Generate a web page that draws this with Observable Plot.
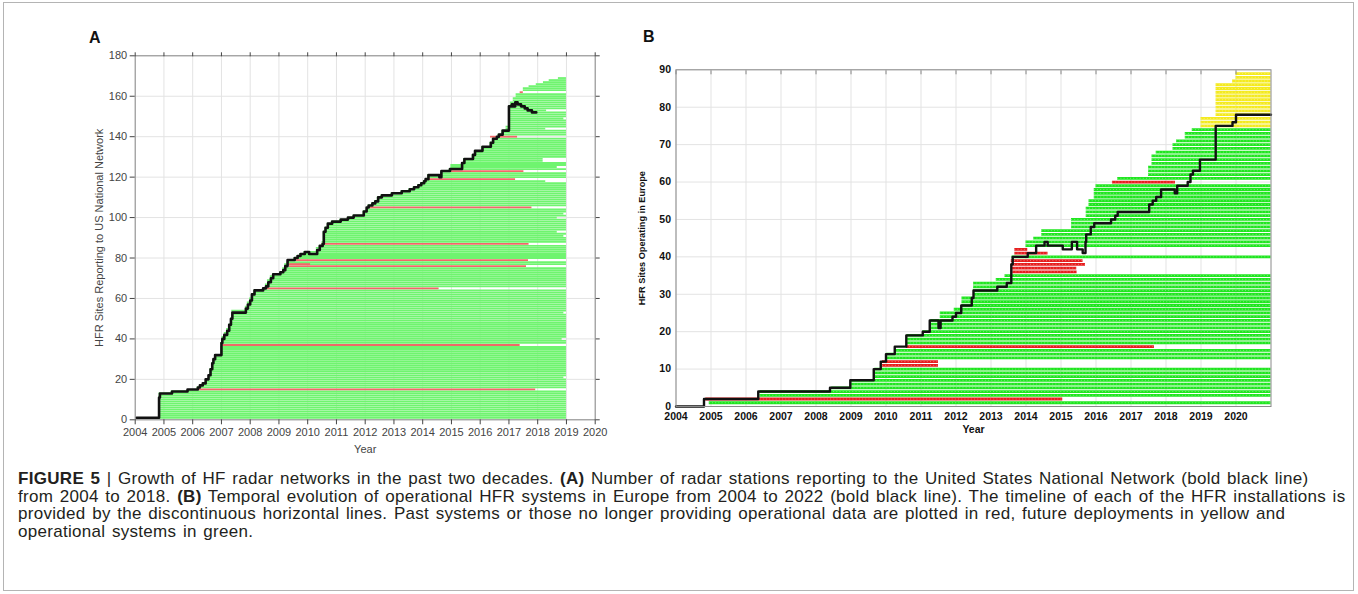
<!DOCTYPE html>
<html><head><meta charset="utf-8">
<script src="https://cdn.jsdelivr.net/npm/d3@7"></script>
<script src="https://cdn.jsdelivr.net/npm/@observablehq/plot@0.6"></script>
<style>
html,body{margin:0;padding:0;background:#fff}
body{width:1358px;height:594px;position:relative;overflow:hidden;font-family:"Liberation Sans",Arial,sans-serif}
#border{position:absolute;left:3px;top:2px;width:1351px;height:589px;border:1px solid #b4b4b4;box-sizing:border-box}
.panel{position:absolute}
.letter{position:absolute;font:bold 16px "Liberation Sans",Arial,sans-serif;color:#111;line-height:16px}
#caption{position:absolute;left:18px;top:470px;font-size:17px;letter-spacing:0.3px;word-spacing:1.5px;line-height:17.6px;color:#231f20;white-space:nowrap}
#caption b{font-weight:bold}
</style></head><body>
<div id="border"></div>
<div class="letter" style="left:89px;top:30px">A</div>
<div class="letter" style="left:643px;top:29px">B</div>
<div id="panelA" class="panel" style="left:40px;top:40px"></div>
<div id="panelB" class="panel" style="left:630px;top:50px"></div>
<div id="caption"><b>FIGURE 5</b> | Growth of HF radar networks in the past two decades. <b>(A)</b> Number of radar stations reporting to the United States National Network (bold black line)<br>from 2004 to 2018. <b>(B)</b> Temporal evolution of operational HFR systems in Europe from 2004 to 2022 (bold black line). The timeline of each of the HFR installations is<br>provided by the discontinuous horizontal lines. Past systems or those no longer providing operational data are plotted in red, future deployments in yellow and<br>operational systems in green.</div>
<script>
// ---------------- Panel A : US National Network ----------------
// black line: [year, sites reporting]
const usLine = [[2004.05,1],[2004.83,11],[2004.86,13],[2005.28,14],[2005.82,15],[2006.18,16],[2006.25,17],[2006.35,18],[2006.45,20],[2006.55,22],[2006.62,25],[2006.68,28],[2006.72,30],[2006.78,32],[2007.0,38],[2007.03,40],[2007.1,42],[2007.2,44],[2007.27,47],[2007.33,50],[2007.38,53],[2007.85,55],[2007.92,57],[2008.0,59],[2008.06,62],[2008.15,64],[2008.45,65],[2008.55,66],[2008.63,68],[2008.72,70],[2008.8,72],[2009.05,73],[2009.15,74],[2009.22,76],[2009.3,79],[2009.55,80],[2009.65,81],[2009.75,82],[2009.9,83],[2010.05,82],[2010.33,84],[2010.42,86],[2010.52,87],[2010.56,93],[2010.62,95],[2010.7,97],[2010.85,98],[2011.15,99],[2011.4,100],[2011.6,101],[2011.95,103],[2012.05,105],[2012.12,106],[2012.25,107],[2012.35,108],[2012.45,110],[2012.58,111],[2012.93,112],[2013.27,113],[2013.55,114],[2013.7,115],[2013.85,116],[2013.95,117],[2014.05,118],[2014.1,119],[2014.2,121],[2014.58,120],[2014.65,123],[2014.95,124],[2015.37,127],[2015.45,129],[2015.75,131],[2015.82,133],[2016.08,135],[2016.37,137],[2016.45,139],[2016.58,140],[2016.65,141],[2016.78,143],[2017.0,155],[2017.1,156],[2017.15,155],[2017.22,157],[2017.3,156],[2017.42,155],[2017.55,154],[2017.65,153],[2017.8,152],[2017.95,152]];
// green envelope: [start year, highest site row started by then]
const usEnvelope = [[2004.83,13],[2005.25,14],[2005.8,15],[2006.15,16],[2006.25,17],[2006.35,18],[2006.45,20],[2006.55,22],[2006.6,25],[2006.66,28],[2006.72,30],[2006.78,32],[2006.98,38],[2007.02,41],[2007.1,43],[2007.18,45],[2007.25,47],[2007.32,50],[2007.36,54],[2007.83,56],[2007.9,58],[2007.98,60],[2008.05,62],[2008.13,64],[2008.43,65],[2008.53,67],[2008.6,69],[2008.7,71],[2008.78,72],[2009.03,73],[2009.13,75],[2009.2,77],[2009.28,79],[2009.52,80],[2009.62,81],[2009.72,82],[2009.87,83],[2010.3,85],[2010.4,86],[2010.5,88],[2010.54,93],[2010.6,95],[2010.68,97],[2010.82,98],[2011.12,99],[2011.38,100],[2011.58,101],[2011.93,103],[2012.03,105],[2012.1,106],[2012.22,107],[2012.32,108],[2012.42,110],[2012.55,111],[2012.9,112],[2013.25,113],[2013.52,114],[2013.67,115],[2013.82,116],[2013.92,117],[2014.02,118],[2014.08,119],[2014.17,121],[2014.62,123],[2014.92,124],[2014.98,126],[2015.35,127],[2015.42,129],[2015.72,131],[2015.8,133],[2016.05,135],[2016.34,137],[2016.42,139],[2016.55,140],[2016.62,141],[2016.75,143],[2016.9,145],[2016.99,155],[2017.05,157],[2017.15,159],[2017.25,161],[2017.39,162],[2017.5,164],[2017.7,165],[2017.95,166],[2018.2,167],[2018.4,168],[2018.72,169]];
// past systems (red): [row, start, end]
const usPast = [[15,2006.24,2017.93],[37,2007.03,2017.39],[65,2008.59,2014.57],[76,2009.37,2017.61],[77,2009.37,2010.1],[79,2009.61,2017.68],[87,2010.5,2017.7],[105,2012.16,2017.8],[119,2014.1,2017.23],[123,2014.95,2017.52],[140,2016.36,2017.3],[162,2017.39,2017.5]];
const usRetired = [15,37,65,76,79,87,105,119,123,140,162];
// operational rows whose timeline stops before 2019: [row, end]
const usEarlyEnd = [[21,2018.91],[40,2018.85],[53,2018.91],[91,2018.91],[93,2018.68],[100,2018.68],[102,2018.91],[118,2018.28],[125,2018.68],[128,2018.19],[129,2018.19],[144,2018.28],[149,2018.91],[153,2018.31]];
const usEnd = 2019;

// ---------------- Panel B : Europe ----------------
const euLine = [[2004.0,0],[2004.8,2],[2006.35,4],[2008.4,5],[2008.98,7],[2009.65,10],[2009.85,12],[2010.0,14],[2010.25,16],[2010.58,19],[2011.05,20],[2011.25,23],[2011.5,21],[2011.56,23],[2011.9,24],[2012.0,25],[2012.15,27],[2012.45,29],[2012.5,31],[2013.18,32],[2013.45,33],[2013.58,38],[2013.62,40],[2014.05,41],[2014.29,43],[2014.53,44],[2014.62,43],[2015.05,42],[2015.31,44],[2015.46,42],[2015.62,41],[2015.7,44],[2015.72,46],[2015.85,48],[2015.95,49],[2016.43,50],[2016.55,51],[2016.62,52],[2017.52,54],[2017.62,55],[2017.72,56],[2017.86,58],[2018.25,57],[2018.32,59],[2018.62,60],[2018.7,62],[2018.77,63],[2018.97,66],[2019.42,75],[2019.9,76],[2020.0,78],[2021.0,78]];
// site timelines: [first row, last row, start, end, status]
const euSites = [
  [1,1,2004.95,2021,"op"],[2,2,2004.85,2015.05,"past"],[3,4,2006.4,2021,"op"],[5,5,2008.45,2021,"op"],
  [6,7,2009.0,2021,"op"],[8,10,2009.68,2021,"op"],[11,12,2009.9,2011.5,"past"],[13,14,2010.02,2021,"op"],
  [15,15,2010.25,2021,"op"],[16,16,2010.58,2017.67,"past"],[17,19,2010.6,2021,"op"],[20,20,2011.05,2021,"op"],
  [21,23,2011.28,2021,"op"],[24,25,2011.55,2021,"op"],[26,26,2011.95,2021,"op"],[27,29,2012.17,2021,"op"],
  [30,33,2012.5,2021,"op"],[34,34,2013.15,2021,"op"],[35,35,2013.4,2021,"op"],[36,36,2013.62,2015.46,"past"],
  [37,37,2013.6,2015.45,"past"],[38,38,2013.58,2015.7,"past"],[39,39,2013.58,2015.63,"past"],[40,40,2013.6,2021,"op"],
  [41,41,2013.68,2014.63,"past"],[42,42,2013.68,2014.05,"past"],[43,44,2014.0,2021,"op"],[45,45,2014.22,2021,"op"],
  [46,47,2014.45,2021,"op"],[48,50,2015.3,2021,"op"],[51,53,2015.72,2021,"op"],[54,55,2015.8,2021,"op"],
  [56,58,2015.95,2021,"op"],[59,59,2016.0,2021,"op"],[60,60,2016.47,2018.27,"past"],[61,61,2016.62,2021,"op"],
  [62,64,2017.5,2021,"op"],[65,67,2017.6,2021,"op"],[68,68,2017.72,2021,"op"],[69,70,2018.2,2021,"op"],
  [71,71,2018.3,2021,"op"],[72,73,2018.55,2021,"op"],[74,74,2018.75,2021,"op"],[75,77,2019.0,2021,"future"],
  [78,86,2019.43,2021,"future"],[87,87,2019.9,2021,"future"],[88,89,2020.0,2021,"future"]
];

// ---------- build row segments ----------
const usTopRow = usEnvelope[usEnvelope.length-1][1];
const greenA = [];
for (let r = 1; r <= usTopRow; r++) {
  if (usRetired.includes(r)) continue;
  const env = usEnvelope.find(e => e[1] >= r);
  const early = usEarlyEnd.find(e => e[0] === r);
  greenA.push({row: r, start: env[0], end: early ? early[1] : usEnd});
}
const redA = usPast.map(([row, start, end]) => ({row, start, end}));

const euRows = [];
for (const [r0, r1, start, end, status] of euSites)
  for (let r = r0; r <= r1; r++) euRows.push({row: r, start, end, status});

const gridC = "#e3e3e3";
const plotA = Plot.plot({
  width: 580, height: 430,
  marginLeft: 94.7, marginTop: 15.3, marginRight: 25.3, marginBottom: 50.7,
  x: {domain: [2004, 2020]},
  y: {domain: [0, 180]},
  style: {fontFamily: "'Liberation Sans', Arial, sans-serif", fontSize: "11px", color: "#444", background: "transparent", overflow: "visible"},
  marks: [
    Plot.gridX({ticks: d3.range(2004, 2021), stroke: gridC, strokeOpacity: 1}),
    Plot.gridY({ticks: d3.range(0, 181, 20), stroke: gridC, strokeOpacity: 1}),
    Plot.ruleY(greenA, {y: "row", x1: "start", x2: "end", stroke: "#6ff46f", strokeWidth: 1.8}),
    Plot.ruleY(redA, {y: "row", x1: "start", x2: "end", stroke: "#f06868", strokeWidth: 1.8}),
    Plot.line(usLine, {x: d => d[0], y: d => d[1], curve: "step-after", stroke: "#111", strokeWidth: 2.6}),
    Plot.frame({stroke: "#8a8a8a"}),
    Plot.axisX({anchor: "bottom", ticks: d3.range(2004, 2021), tickFormat: d => String(d), tickSize: 5, tickPadding: 3, label: "Year", labelAnchor: "center", labelOffset: 33, labelArrow: "none"}),
    Plot.axisX({anchor: "top", ticks: d3.range(2004, 2021), tickFormat: () => "", tickSize: 4, label: null}),
    Plot.axisY({anchor: "left", ticks: d3.range(0, 181, 20), tickSize: 5, tickPadding: 3, label: "HFR Sites Reporting to US National Network", labelAnchor: "center", labelOffset: 40, labelArrow: "none"}),
    Plot.axisY({anchor: "right", ticks: d3.range(0, 181, 20), tickFormat: () => "", tickSize: 4, label: null})
  ]
});
document.getElementById("panelA").appendChild(plotA);

const euColor = {op: "#1fe61f", past: "#e61e1e", future: "#f4ea1e"};
const plotB = Plot.plot({
  width: 660, height: 400,
  marginLeft: 45.5, marginTop: 19.3, marginRight: 19.5, marginBottom: 44,
  x: {domain: [2004, 2021]},
  y: {domain: [0, 90]},
  style: {fontFamily: "'Liberation Sans', Arial, sans-serif", fontSize: "10.5px", fontWeight: "bold", color: "#111", background: "transparent", overflow: "visible"},
  marks: [
    Plot.gridX({ticks: d3.range(2004, 2021), stroke: gridC, strokeOpacity: 1}),
    Plot.gridY({ticks: d3.range(0, 91, 10), stroke: gridC, strokeOpacity: 1}),
    Plot.ruleY(euRows, {y: "row", x1: "start", x2: "end", stroke: d => euColor[d.status], strokeWidth: 2.8}),
    Plot.ruleY(euRows, {y: "row", x1: "start", x2: "end", stroke: "#ffffff", strokeOpacity: 0.35, strokeWidth: 1, strokeDasharray: "1,2.2"}),
    Plot.line(euLine, {x: d => d[0], y: d => d[1], curve: "step-after", stroke: "#111", strokeWidth: 2.4}),
    Plot.frame({stroke: "#8a8a8a"}),
    Plot.axisX({anchor: "bottom", ticks: d3.range(2004, 2021), tickFormat: d => String(d), tickSize: 0, tickPadding: 6, label: "Year", labelAnchor: "center", labelOffset: 26, labelArrow: "none"}),
    Plot.axisX({anchor: "top", ticks: d3.range(2004, 2021), tickFormat: () => "", tickSize: -4, label: null, stroke: "#888"}),
    Plot.axisY({anchor: "left", ticks: d3.range(0, 91, 10), tickSize: 0, tickPadding: 5, label: null}),
    Plot.text(["HFR Sites Operating in Europe"], {frameAnchor: "left", textAnchor: "middle", rotate: -90, dx: -34, fontSize: 9.2, fontWeight: "bold", fill: "#111"})
  ]
});
document.getElementById("panelB").appendChild(plotB);
</script>
</body></html>
